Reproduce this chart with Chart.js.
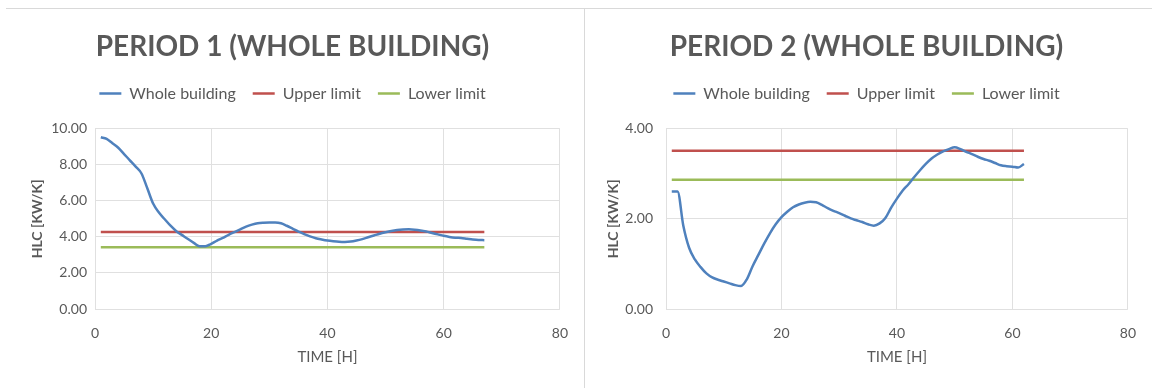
<!DOCTYPE html>
<html>
<head>
<meta charset="utf-8">
<script src="https://cdn.jsdelivr.net/npm/chart.js@4.4.0/dist/chart.umd.min.js"></script>
<style>
  body { margin: 0; background: #fff; width: 1152px; height: 388px; overflow: hidden; position: relative; }
  .panel { position: absolute; top: 0; height: 388px; }
  #p1 { left: 0; width: 584px; }
  #p2 { left: 585px; width: 567px; }
  .topline { position: absolute; left: 6px; top: 8px; width: 1146px; height: 1px; background: #d9d9d9; }
  .sep { position: absolute; left: 584px; top: 8px; width: 1px; height: 380px; background: #d9d9d9; }
</style>
</head>
<body>
<div class="panel" id="p1"><canvas id="chart1" width="584" height="388"></canvas></div>
<div class="panel" id="p2"><canvas id="chart2" width="567" height="388"></canvas></div>
<div class="topline"></div>
<div class="sep"></div>
<script>
// period 1 - time (h) and HLC (kW/K)
const time1 = [1,2,3,4,5,6,7,8,9,10,11,12,13,14,15,16,17,18,19,20,21,22,23,24,25,26,27,28,29,30,
  31,32,33,34,35,36,37,38,39,40,41,42,43,44,45,46,47,48,49,50,51,52,53,54,55,56,57,58,59,60,
  61,62,63,64,65,66,67];
const hlc1 = [9.53,9.44,9.2,8.95,8.6,8.25,7.9,7.52,6.7,5.85,5.35,4.98,4.62,4.32,4.1,3.88,3.67,3.48,3.48,3.62,
  3.8,3.95,4.12,4.27,4.42,4.57,4.68,4.76,4.79,4.8,4.8,4.76,4.62,4.46,4.3,4.15,4.03,3.93,3.86,3.8,
  3.76,3.73,3.72,3.74,3.8,3.88,3.98,4.08,4.18,4.26,4.33,4.38,4.41,4.42,4.4,4.36,4.3,4.22,4.14,4.06,
  4.0,3.96,3.94,3.9,3.86,3.83,3.82];
const upper1 = 4.27;
const lower1 = 3.42;

// period 2
const time2 = [1,2,3,4,5,6,7,8,9,10,11,12,13,14,15,16,17,18,19,20,21,22,23,24,25,26,27,28,29,30,
  31,32,33,34,35,36,37,38,39,40,41,42,43,44,45,46,47,48,49,50,51,52,53,54,55,56,57,58,59,60,
  61,62];
const hlc2 = [2.61,2.61,1.85,1.36,1.1,0.93,0.79,0.7,0.65,0.61,0.57,0.53,0.51,0.66,0.95,1.2,1.45,1.68,1.88,2.04,
  2.16,2.26,2.32,2.36,2.38,2.37,2.31,2.24,2.18,2.13,2.07,2.01,1.97,1.93,1.88,1.85,1.9,2.02,2.25,2.45,
  2.63,2.77,2.93,3.08,3.22,3.34,3.43,3.5,3.55,3.59,3.55,3.49,3.44,3.38,3.33,3.29,3.24,3.19,3.17,3.16,
  3.14,3.22];
const upper2 = 3.51;
const lower2 = 2.87;

const seriesNames = ["Whole building", "Upper limit", "Lower limit"];
const titles = ["PERIOD 1 (WHOLE BUILDING)", "PERIOD 2 (WHOLE BUILDING)"];
const xTicks = [0, 20, 40, 60, 80];
const yMax1 = 10, yMax2 = 4;

const BLUE = "#4f81bd", RED = "#c0504d", GREEN = "#9bbb59";
const TXT = "#595959", GRID = "#e0e0e0";
const FONT = "Lato";

function lineData(times, values) {
    return times.map((t, i) => ({ x: t, y: values[i] }));
}

function flat(times, v) {
    return [{ x: times[0], y: v }, { x: times[times.length - 1], y: v }];
}

function makeChart(id, title, times, values, up, low, yMax, cfg) {
    const ctx = document.getElementById(id).getContext("2d");
    return new Chart(ctx, {
        type: "line",
        data: {
            datasets: [
                { label: seriesNames[0], data: lineData(times, values), borderColor: BLUE, backgroundColor: BLUE,
                  borderWidth: 2.5, pointRadius: 0, cubicInterpolationMode: "monotone" },
                { label: seriesNames[1], data: flat(times, up), borderColor: RED, backgroundColor: RED,
                  borderWidth: 2.5, pointRadius: 0 },
                { label: seriesNames[2], data: flat(times, low), borderColor: GREEN, backgroundColor: GREEN,
                  borderWidth: 2.5, pointRadius: 0 }
            ]
        },
        options: {
            responsive: false,
            animation: false,
            layout: { padding: { left: cfg.padLeft, right: cfg.padRight, top: 0, bottom: 0 } },
            plugins: {
                tooltip: { enabled: false },
                title: {
                    display: true, text: title, color: TXT,
                    font: { family: FONT, size: 28, weight: "bold" },
                    padding: { top: 30, bottom: 5 }
                },
                // empty block between legend and plot, just for spacing
                subtitle: {
                    display: true, text: " ", weight: 500,
                    font: { size: 1 }, padding: { top: 16, bottom: 0 }
                },
                legend: {
                    labels: {
                        color: TXT, boxWidth: 22, boxHeight: 0, padding: 17,
                        font: { family: FONT, size: 16 }
                    }
                }
            },
            scales: {
                x: {
                    type: "linear", min: 0, max: 80,
                    afterBuildTicks: s => { s.ticks = xTicks.map(v => ({ value: v })); },
                    afterFit: s => { s.height = 79; },
                    grid: { color: GRID, drawTicks: false },
                    border: { display: false },
                    ticks: { color: TXT, padding: 16, font: { family: FONT, size: 14 } },
                    title: { display: true, text: "TIME [H]", color: TXT,
                             font: { family: FONT, size: 15 }, padding: { bottom: 22 } }
                },
                y: {
                    min: 0, max: yMax,
                    afterFit: s => { s.width = cfg.yWidth; },
                    grid: { color: GRID, drawTicks: false },
                    border: { display: false },
                    ticks: { stepSize: 2, color: TXT, padding: cfg.tickPad,
                             font: { family: FONT, size: 14 },
                             callback: v => v.toFixed(2) },
                    title: { display: true, text: "HLC [KW/K]", color: TXT,
                             font: { family: FONT, size: 14, weight: "bold" },
                             padding: { top: cfg.titlePad } }
                }
            }
        }
    });
}

makeChart("chart1", titles[0], time1, hlc1, upper1, lower1, yMax1,
    { padLeft: 19, padRight: 18, yWidth: 76, tickPad: 8, titlePad: 10 });
makeChart("chart2", titles[1], time2, hlc2, upper2, lower2, yMax2,
    { padLeft: 12, padRight: 16, yWidth: 69, tickPad: 13, titlePad: 8 });
</script>
</body>
</html>
